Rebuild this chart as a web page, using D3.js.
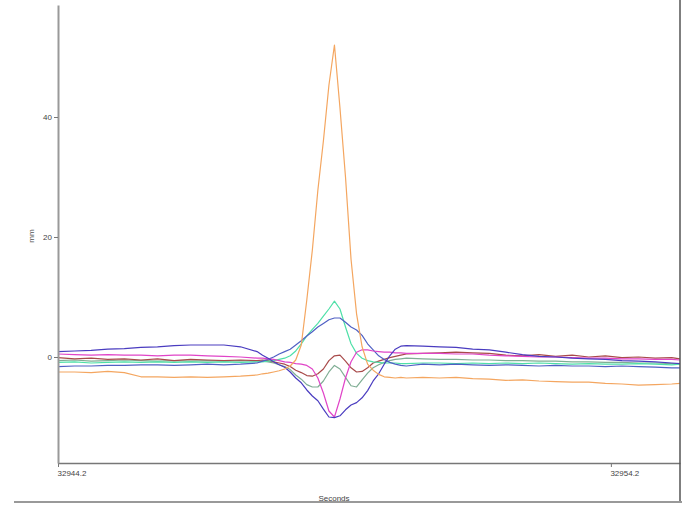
<!DOCTYPE html>
<html><head><meta charset="utf-8">
<script src="https://cdn.jsdelivr.net/npm/d3@7"></script>
<style>html,body{margin:0;padding:0;background:#fff;}svg{display:block;}</style>
</head><body>
<script>
const seconds = [
 32944.2, 32944.5, 32944.8, 32945.1, 32945.4, 32945.7, 32946.0, 32946.3, 32946.6, 32946.9, 32947.2, 32947.5, 32947.8,
 32947.9, 32948.0, 32948.1, 32948.2, 32948.3, 32948.4, 32948.5, 32948.6, 32948.7, 32948.8, 32948.9, 32949.0, 32949.1,
 32949.2, 32949.3, 32949.4, 32949.5, 32949.6, 32949.7, 32949.8, 32949.9, 32950.0, 32950.1, 32950.2, 32950.3, 32950.4, 32950.5,
 32950.8, 32951.1, 32951.4, 32951.7, 32952.0, 32952.3, 32952.6, 32952.9, 32953.2, 32953.5, 32953.8, 32954.1, 32954.4,
 32954.7, 32955.0, 32955.3, 32955.45];

const orange = [-2.5,-2.5,-2.6,-2.4,-2.6,-3.3,-3.3,-3.4,-3.3,-3.4,-3.3,-3.2,-3.0,
 -2.8,-2.7,-2.5,-2.3,-2.0,-1.5,-0.5,2.0,9.5,17.8,27.8,36,45.3,52,41.5,30,16.3,7.2,1.7,-1.2,-2.2,-2.9,-3.3,-3.4,-3.5,-3.4,-3.5,
 -3.4,-3.5,-3.4,-3.6,-3.7,-3.9,-3.8,-4.0,-4.1,-4.2,-4.2,-4.4,-4.5,-4.7,-4.6,-4.5,-4.4];
const mint = [-0.9,-0.8,-1.0,-0.9,-0.8,-0.9,-0.8,-0.9,-0.8,-0.9,-0.8,-0.9,-0.8,
 -0.8,-0.7,-0.6,-0.4,-0.2,0.2,1.0,2.2,3.5,4.6,5.6,6.8,8.0,9.3,8.0,5.0,2.2,0.6,-0.2,-0.6,-0.8,-0.9,-1.0,-1.0,-1.0,-1.1,-1.1,
 -1.0,-1.0,-1.1,-1.0,-1.1,-1.0,-1.1,-1.0,-1.1,-1.2,-1.1,-1.2,-1.2,-1.1,-1.2,-1.3,-1.2];
const blueUp = [-1.6,-1.5,-1.5,-1.4,-1.4,-1.3,-1.3,-1.4,-1.3,-1.2,-1.3,-1.2,-1.0,
 -0.7,-0.4,0.0,0.5,0.9,1.3,2.0,2.7,3.5,4.2,5.0,5.6,6.2,6.5,6.5,5.8,5.0,4.5,3.6,2.2,1.2,0.2,-0.4,-0.9,-1.2,-1.4,-1.5,
 -1.2,-1.3,-1.2,-1.3,-1.4,-1.3,-1.4,-1.5,-1.4,-1.5,-1.5,-1.6,-1.5,-1.6,-1.7,-1.8,-1.8];
const blueDip = [0.9,1.0,1.1,1.3,1.4,1.6,1.7,1.9,2.0,2.0,2.0,1.7,0.9,
 0.3,-0.2,-0.8,-1.3,-1.7,-2.5,-3.5,-4.3,-5.5,-6.5,-7.3,-8.7,-10.0,-10.1,-9.8,-8.8,-8.0,-7.6,-6.8,-5.6,-4.0,-2.8,-1.2,0.2,1.3,1.8,1.9,
 1.8,1.7,1.6,1.3,1.2,0.8,0.4,0.1,0.0,-0.2,-0.3,-0.4,-0.6,-0.7,-0.8,-1.0,-1.1];
const magenta = [0.5,0.4,0.3,0.4,0.3,0.3,0.2,0.3,0.3,0.2,0.1,0.0,-0.2,
 -0.2,-0.3,-0.4,-0.6,-0.8,-0.9,-1.1,-1.2,-1.4,-2.0,-3.5,-6.0,-9.0,-10.0,-7.0,-3.5,-0.8,0.8,1.2,1.2,1.0,0.9,0.8,0.8,0.7,0.7,0.6,
 0.6,0.6,0.5,0.5,0.3,0.2,0.1,0.0,0.0,-0.1,-0.2,-0.2,-0.3,-0.3,-0.4,-0.4,-0.5];
const darkRed = [-0.1,-0.3,-0.2,-0.4,-0.3,-0.5,-0.3,-0.6,-0.4,-0.5,-0.6,-0.5,-0.6,
 -0.5,-0.6,-0.8,-1.0,-1.2,-1.6,-2.2,-2.6,-3.1,-3.2,-2.8,-2.0,-0.6,0.2,0.3,-0.7,-1.8,-2.5,-2.4,-1.8,-1.0,-0.7,-0.4,-0.1,0.1,0.3,0.5,
 0.6,0.7,0.8,0.7,0.6,0.3,0.2,0.4,0.1,0.3,0.0,0.2,-0.1,0.0,-0.2,-0.1,-0.3];
const grayGreen = [-0.6,-0.5,-0.7,-0.6,-0.5,-0.6,-0.7,-0.6,-0.7,-0.6,-0.7,-0.6,-0.7,
 -0.7,-0.8,-1.0,-1.3,-1.6,-2.1,-3.0,-3.7,-4.6,-5.0,-5.0,-4.0,-2.5,-1.4,-2.0,-3.4,-4.8,-5.0,-3.8,-2.7,-1.8,-1.3,-0.9,-0.6,-0.4,-0.3,-0.2,
 -0.3,-0.4,-0.4,-0.5,-0.5,-0.6,-0.6,-0.7,-0.7,-0.8,-0.8,-0.9,-0.9,-1.0,-1.0,-1.1,-1.1];

const seriesNames = ["grayGreen","darkRed","mint","blueUp","magenta","blueDip","orange"];
const seriesValues = [grayGreen, darkRed, mint, blueUp, magenta, blueDip, orange];
const seriesColors = ["#7fae94","#a84a4a","#4fe0a8","#5060c4","#e044c8","#4a3cc0","#f4a660"];

const xTicks = [32944.2, 32954.2];
const yTicks = [0, 20, 40];
const xLabel = "Seconds";
const yLabel = "mm";

const W = 682, H = 505;
const svg = d3.select("body").append("svg").attr("width", W).attr("height", H);

const x = d3.scaleLinear().domain([32944.2, 32955.45]).range([58, 680]);
const y = d3.scaleLinear().domain([-17.67, 58.67]).range([463, 5]);

const line = d3.line().x((d, i) => x(seconds[i])).y(d => y(d));

svg.append("g").selectAll("path").data(seriesValues).join("path")
  .attr("d", d => line(d))
  .attr("fill", "none")
  .attr("stroke", (d, i) => seriesColors[i])
  .attr("stroke-width", 1.2)
  .attr("stroke-linejoin", "round");

// x axis
const xAxis = svg.append("g").attr("transform", "translate(0,463)")
  .call(d3.axisBottom(x).tickValues(xTicks).tickFormat(d3.format(".1f")).tickSize(4).tickSizeOuter(0));
xAxis.select(".domain").attr("stroke", "#777").attr("stroke-width", 1.5);
xAxis.selectAll(".tick line").attr("stroke", "#777");
xAxis.selectAll(".tick text").attr("text-anchor", "start").attr("x", -1).attr("y", 7)
  .attr("font-family", "Liberation Sans, Arial, sans-serif").attr("font-size", 8).attr("fill", "#444");

// y axis
const yAxis = svg.append("g").attr("transform", "translate(58,0)")
  .call(d3.axisLeft(y).tickValues(yTicks).tickSize(4).tickSizeOuter(0));
yAxis.select(".domain").attr("stroke", "#999").attr("stroke-width", 2);
yAxis.selectAll(".tick line").attr("stroke", "#777");
yAxis.selectAll(".tick text").attr("x", -6)
  .attr("font-family", "Liberation Sans, Arial, sans-serif").attr("font-size", 8).attr("fill", "#444");

// frame lines
svg.append("line").attr("x1", 680).attr("x2", 680).attr("y1", 0).attr("y2", 502).attr("stroke", "#555").attr("stroke-width", 1.5);
svg.append("line").attr("x1", 14).attr("x2", 682).attr("y1", 502).attr("y2", 502).attr("stroke", "#999").attr("stroke-width", 2);

svg.append("text").attr("x", 334).attr("y", 501).attr("text-anchor", "middle")
  .attr("font-family", "Liberation Sans, Arial, sans-serif").attr("font-size", 8).attr("fill", "#444").text(xLabel);
svg.append("text").attr("transform", "translate(34,236) rotate(-90)").attr("text-anchor", "middle")
  .attr("font-family", "Liberation Sans, Arial, sans-serif").attr("font-size", 8).attr("fill", "#555").text(yLabel);
</script>
</body></html>
